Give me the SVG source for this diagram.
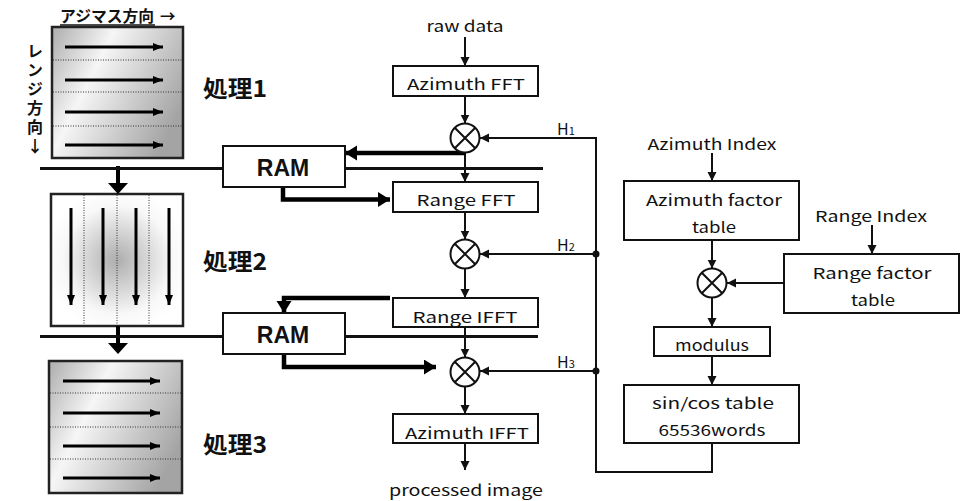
<svg xmlns="http://www.w3.org/2000/svg" width="967" height="501" viewBox="0 0 967 501">
  <style>
    .box { fill: #fff; stroke: #111; stroke-width: 2; }
    .lbl { font-family: "Noto Sans CJK JP", "DejaVu Sans", sans-serif; font-size: 15px; fill: #111; text-anchor: middle; }
    .ram { font-family: "Liberation Sans", Arial, sans-serif; font-weight: bold; font-size: 23px; fill: #111; text-anchor: middle; }
    .jp { font-family: "Noto Sans CJK JP", sans-serif; font-weight: bold; fill: #111; }
    .thin { fill: none; stroke: #111; stroke-width: 2; }
    .thick { fill: none; stroke: #000; stroke-width: 4.5; }
    .bus { fill: none; stroke: #111; stroke-width: 3; }
    .dot { fill: none; stroke: #333; stroke-width: 1; stroke-dasharray: 1 1.5; }
    .inner { fill: none; stroke: #000; stroke-width: 3; }
    .ring { fill: #fff; stroke: #111; stroke-width: 2; }
    .x { fill: none; stroke: #111; stroke-width: 2; }
  </style>
  <defs>
    <marker id="ah" markerUnits="userSpaceOnUse" markerWidth="10" markerHeight="10" refX="9" refY="4.5" orient="auto">
      <path d="M0,0 L9,4.5 L0,9 z" fill="#111"/>
    </marker>
    <marker id="ahBig" markerUnits="userSpaceOnUse" markerWidth="14" markerHeight="16" refX="12" refY="7.5" orient="auto">
      <path d="M0,0 L12,7.5 L0,15 z" fill="#000"/>
    </marker>
    <marker id="ahIn" markerUnits="userSpaceOnUse" markerWidth="12" markerHeight="10" refX="10" refY="4" orient="auto">
      <path d="M0,0 L10,4 L0,8 z" fill="#000"/>
    </marker>
    <linearGradient id="gSweep" x1="0" y1="0.1" x2="1" y2="0.6">
      <stop offset="0" stop-color="#b4b4b4"/>
      <stop offset="0.35" stop-color="#f6f6f6"/>
      <stop offset="1" stop-color="#a4a4a4"/>
    </linearGradient>
    <radialGradient id="gCenter" cx="0.5" cy="0.5" r="0.55">
      <stop offset="0" stop-color="#adadad"/>
      <stop offset="0.75" stop-color="#f8f8f8"/>
      <stop offset="1" stop-color="#ffffff"/>
    </radialGradient>
  </defs>

  <!-- memory access pattern illustration -->
  <g id="memory-view">
    <text class="jp" x="60" y="22" font-size="15.5" textLength="94" lengthAdjust="spacingAndGlyphs">アジマス方向</text>
    <line x1="60" y1="25" x2="155" y2="25" stroke="#111" stroke-width="1.5"/>
    <text class="jp" x="160" y="22" font-size="15.5">→</text>
    <text class="jp" x="35" y="43" font-size="16" letter-spacing="3" style="writing-mode: vertical-rl; text-orientation: upright;">レンジ方向↓</text>

    <!-- pass 1: azimuth lines -->
    <rect x="52" y="27" width="131" height="131" fill="url(#gSweep)" stroke="#222" stroke-width="2.5"/>
    <line class="dot" x1="53" y1="60" x2="182" y2="60"/>
    <line class="dot" x1="53" y1="92" x2="182" y2="92"/>
    <line class="dot" x1="53" y1="126" x2="182" y2="126"/>
    <line class="inner" x1="65" y1="47" x2="163" y2="47" marker-end="url(#ahIn)"/>
    <line class="inner" x1="65" y1="80" x2="163" y2="80" marker-end="url(#ahIn)"/>
    <line class="inner" x1="65" y1="112" x2="163" y2="112" marker-end="url(#ahIn)"/>
    <line class="inner" x1="65" y1="145" x2="163" y2="145" marker-end="url(#ahIn)"/>

    <!-- pass 2: range lines -->
    <rect x="51" y="194" width="132" height="132" fill="url(#gCenter)" stroke="#222" stroke-width="2.5"/>
    <line class="dot" x1="84" y1="195" x2="84" y2="325"/>
    <line class="dot" x1="117" y1="195" x2="117" y2="325"/>
    <line class="dot" x1="149" y1="195" x2="149" y2="325"/>
    <line class="inner" x1="71" y1="208" x2="71" y2="305" marker-end="url(#ahIn)"/>
    <line class="inner" x1="103" y1="208" x2="103" y2="305" marker-end="url(#ahIn)"/>
    <line class="inner" x1="136" y1="208" x2="136" y2="305" marker-end="url(#ahIn)"/>
    <line class="inner" x1="169" y1="208" x2="169" y2="305" marker-end="url(#ahIn)"/>

    <!-- pass 3: azimuth lines -->
    <rect x="49" y="361" width="133" height="132" fill="url(#gSweep)" stroke="#222" stroke-width="2.5"/>
    <line class="dot" x1="50" y1="393" x2="181" y2="393"/>
    <line class="dot" x1="50" y1="427" x2="181" y2="427"/>
    <line class="dot" x1="50" y1="459" x2="181" y2="459"/>
    <line class="inner" x1="63" y1="381" x2="160" y2="381" marker-end="url(#ahIn)"/>
    <line class="inner" x1="63" y1="413" x2="160" y2="413" marker-end="url(#ahIn)"/>
    <line class="inner" x1="63" y1="446" x2="160" y2="446" marker-end="url(#ahIn)"/>
    <line class="inner" x1="63" y1="478" x2="160" y2="478" marker-end="url(#ahIn)"/>

    <!-- transfers between passes -->
    <line x1="118" y1="166" x2="118" y2="184" stroke="#000" stroke-width="4"/>
    <path d="M108,183 L128,183 L118,194 z" fill="#000"/>
    <line x1="118" y1="326" x2="118" y2="344" stroke="#000" stroke-width="4"/>
    <path d="M108,343 L128,343 L118,354 z" fill="#000"/>
  </g>

  <g id="stage-labels" class="jp" font-size="23">
    <text x="203" y="97" textLength="64" lengthAdjust="spacingAndGlyphs">処理1</text>
    <text x="203" y="270" textLength="64" lengthAdjust="spacingAndGlyphs">処理2</text>
    <text x="203" y="453" textLength="64" lengthAdjust="spacingAndGlyphs">処理3</text>
  </g>

  <!-- connectors -->
  <g id="connectors">
    <!-- data buses -->
    <line class="bus" x1="40" y1="168.5" x2="223" y2="168.5"/>
    <line class="bus" x1="345" y1="168.5" x2="543" y2="168.5"/>
    <line class="bus" x1="40" y1="336.5" x2="223" y2="336.5"/>
    <line class="bus" x1="345" y1="336.5" x2="538" y2="336.5"/>

    <!-- main pipeline -->
    <line class="thin" x1="465" y1="37" x2="465" y2="66" marker-end="url(#ah)"/>
    <line class="thin" x1="465" y1="96" x2="465" y2="123.5" marker-end="url(#ah)"/>
    <line class="thin" x1="465" y1="152.5" x2="465" y2="182" marker-end="url(#ah)"/>
    <line class="thin" x1="465" y1="212" x2="465" y2="239.5" marker-end="url(#ah)"/>
    <line class="thin" x1="465" y1="268.5" x2="465" y2="298" marker-end="url(#ah)"/>
    <line class="thin" x1="465" y1="327" x2="465" y2="357.5" marker-end="url(#ah)"/>
    <line class="thin" x1="465" y1="386.5" x2="465" y2="414" marker-end="url(#ah)"/>
    <line class="thin" x1="465" y1="443" x2="465" y2="470" marker-end="url(#ah)"/>

    <!-- RAM transfers -->
    <path class="thick" d="M466,153 H345" marker-end="url(#ahBig)"/>
    <path class="thick" d="M283,187 V199.5 H390" marker-end="url(#ahBig)"/>
    <path class="thick" d="M390,298 H284 V313" marker-end="url(#ahBig)"/>
    <path class="thick" d="M284,354 V367 H436" marker-end="url(#ahBig)"/>

    <!-- reference function feed -->
    <path class="thin" d="M712,443 V472 H596 V138 H480" marker-end="url(#ah)"/>
    <line class="thin" x1="596" y1="254" x2="480" y2="254" marker-end="url(#ah)"/>
    <line class="thin" x1="596" y1="371" x2="480" y2="371" marker-end="url(#ah)"/>
    <circle cx="596" cy="254" r="3.5" fill="#111"/>
    <circle cx="596" cy="371" r="3.5" fill="#111"/>

    <!-- factor generation -->
    <line class="thin" x1="712" y1="153" x2="712" y2="181" marker-end="url(#ah)"/>
    <line class="thin" x1="712" y1="240" x2="712" y2="268.5" marker-end="url(#ah)"/>
    <line class="thin" x1="712" y1="297.5" x2="712" y2="327" marker-end="url(#ah)"/>
    <line class="thin" x1="712" y1="356" x2="712" y2="385" marker-end="url(#ah)"/>
    <line class="thin" x1="872" y1="225" x2="872" y2="254" marker-end="url(#ah)"/>
    <line class="thin" x1="784" y1="283" x2="727" y2="283" marker-end="url(#ah)"/>
  </g>

  <!-- free labels -->
  <g id="io-labels" class="lbl">
    <text x="465" y="32" textLength="77" lengthAdjust="spacingAndGlyphs">raw data</text>
    <text x="466" y="496" textLength="154" lengthAdjust="spacingAndGlyphs">processed image</text>
    <text x="712" y="150" textLength="129" lengthAdjust="spacingAndGlyphs">Azimuth Index</text>
    <text x="871" y="222" textLength="112" lengthAdjust="spacingAndGlyphs">Range Index</text>
  </g>
  <g id="h-labels" font-family="Noto Sans CJK JP, DejaVu Sans, sans-serif" fill="#111">
    <text x="557" y="135" font-size="16">H<tspan font-size="11">1</tspan></text>
    <text x="557" y="251" font-size="16">H<tspan font-size="11">2</tspan></text>
    <text x="557" y="368" font-size="16">H<tspan font-size="11">3</tspan></text>
  </g>

  <g id="ram1">
    <rect class="box" x="223" y="146" width="122" height="41"/>
    <text class="ram" x="283" y="176">RAM</text>
  </g>
  <g id="ram2">
    <rect class="box" x="223" y="313" width="122" height="41"/>
    <text class="ram" x="283" y="343">RAM</text>
  </g>

  <g id="azimuth-fft">
    <rect class="box" x="393" y="66" width="145" height="30"/>
    <text class="lbl" x="466" y="90" textLength="118" lengthAdjust="spacingAndGlyphs">Azimuth FFT</text>
  </g>
  <g id="mul1">
    <circle class="ring" cx="465" cy="138" r="14.5"/>
    <path class="x" d="M454.75,127.75 L475.25,148.25 M475.25,127.75 L454.75,148.25"/>
  </g>
  <g id="range-fft">
    <rect class="box" x="393" y="182" width="145" height="30"/>
    <text class="lbl" x="466" y="206" textLength="99" lengthAdjust="spacingAndGlyphs">Range FFT</text>
  </g>
  <g id="mul2">
    <circle class="ring" cx="465" cy="254" r="14.5"/>
    <path class="x" d="M454.75,243.75 L475.25,264.25 M475.25,243.75 L454.75,264.25"/>
  </g>
  <g id="range-ifft">
    <rect class="box" x="393" y="298" width="145" height="29"/>
    <text class="lbl" x="465" y="323" textLength="105" lengthAdjust="spacingAndGlyphs">Range IFFT</text>
  </g>
  <g id="mul3">
    <circle class="ring" cx="465" cy="372" r="14.5"/>
    <path class="x" d="M454.75,361.75 L475.25,382.25 M475.25,361.75 L454.75,382.25"/>
  </g>
  <g id="azimuth-ifft">
    <rect class="box" x="393" y="414" width="145" height="29"/>
    <text class="lbl" x="467" y="439" textLength="124" lengthAdjust="spacingAndGlyphs">Azimuth IFFT</text>
  </g>

  <g id="azimuth-factor">
    <rect class="box" x="624" y="181" width="175" height="59"/>
    <text class="lbl" x="714" y="206" textLength="136" lengthAdjust="spacingAndGlyphs">Azimuth factor</text>
    <text class="lbl" x="714" y="233" textLength="44" lengthAdjust="spacingAndGlyphs">table</text>
  </g>
  <g id="mul4">
    <circle class="ring" cx="712" cy="283" r="14.5"/>
    <path class="x" d="M701.75,272.75 L722.25,293.25 M722.25,272.75 L701.75,293.25"/>
  </g>
  <g id="range-factor">
    <rect class="box" x="784" y="254" width="175" height="59"/>
    <text class="lbl" x="872" y="279" textLength="119" lengthAdjust="spacingAndGlyphs">Range factor</text>
    <text class="lbl" x="873" y="306" textLength="44" lengthAdjust="spacingAndGlyphs">table</text>
  </g>
  <g id="modulus">
    <rect class="box" x="654" y="327" width="116" height="29"/>
    <text class="lbl" x="712" y="351" textLength="74" lengthAdjust="spacingAndGlyphs">modulus</text>
  </g>
  <g id="sincos-table">
    <rect class="box" x="624" y="385" width="175" height="58"/>
    <text class="lbl" x="713" y="409" textLength="122" lengthAdjust="spacingAndGlyphs">sin/cos table</text>
    <text class="lbl" x="712" y="436" textLength="107" lengthAdjust="spacingAndGlyphs">65536words</text>
  </g>
</svg>
